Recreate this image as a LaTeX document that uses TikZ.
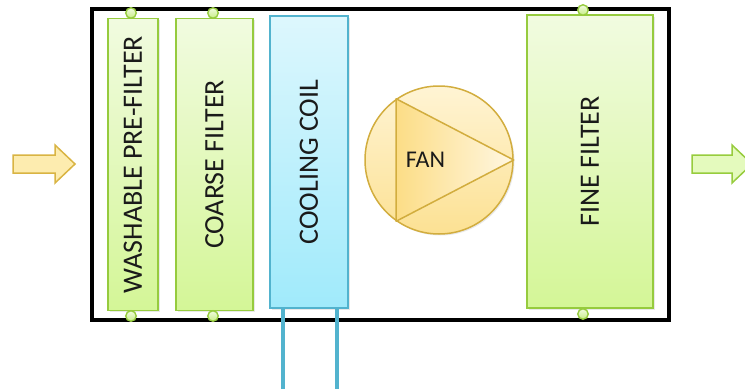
\documentclass[tikz,border=0pt]{standalone}
\usepackage{fontspec}
\setmainfont{Carlito}
\usetikzlibrary{shadows}

\definecolor{filterline}{HTML}{96CB3E}
\definecolor{filtertop}{HTML}{F1FBE0}
\definecolor{filterbot}{HTML}{D4F697}
\definecolor{coilline}{HTML}{52B3CE}
\definecolor{coiltop}{HTML}{DDF7FD}
\definecolor{coilbot}{HTML}{A0EAFB}
\definecolor{fanline}{HTML}{D2AD3E}
\definecolor{fantop}{HTML}{FFF4D4}
\definecolor{fanbot}{HTML}{FCE193}
\definecolor{bladeleft}{HTML}{FCDD86}
\definecolor{bladeright}{HTML}{FFF7E2}
\definecolor{inarrowfill}{HTML}{FDECAF}
\definecolor{inarrowline}{HTML}{D9B443}
\definecolor{outarrowfill}{HTML}{E4FABD}
\definecolor{outarrowline}{HTML}{97CC3D}
\definecolor{labeltext}{HTML}{1A1A1A}

\tikzset{
  softshadow/.style={drop shadow={shadow xshift=1.5pt, shadow yshift=-1.5pt, opacity=0.18}},
  filterbox/.style={draw=filterline, line width=1.5pt, top color=filtertop, bottom color=filterbot,
    softshadow, inner sep=0pt, text=labeltext, font=\fontsize{28}{30}\selectfont},
  coilbox/.style={draw=coilline, line width=1.5pt, top color=coiltop, bottom color=coilbot,
    softshadow, inner sep=0pt, text=labeltext, font=\fontsize{28}{30}\selectfont},
  pin/.style={circle, draw=filterline, line width=1.4pt, inner sep=0pt, minimum size=10.5pt,
    top color=filtertop, bottom color=filterbot!80!filterline},
  pipe/.style={draw=coilline, line width=4pt},
  unitframe/.style={draw=black, line width=4pt, inner sep=0pt},
}

\begin{document}
\begin{tikzpicture}[x=1pt, y=-1pt]
\useasboundingbox (0,0) rectangle (745,389);

% cabinet outline
\node[unitframe, minimum width=577pt, minimum height=311.5pt] (unit) at (380.5,164.25) {};

% inlet and outlet arrows
\filldraw[fill=inarrowfill, draw=inarrowline, line width=1.5pt, line join=miter]
  (13,155) -- (55,155) -- (55,145) -- (75,164) -- (55,183) -- (55,173) -- (13,173) -- cycle;
\filldraw[fill=outarrowfill, draw=outarrowline, line width=1.5pt, line join=miter]
  (692,155) -- (732,155) -- (732,145) -- (752,164) -- (732,183) -- (732,173) -- (692,173) -- cycle;

% pipes of the cooling coil
\coordinate (pipeA) at (283,389);
\coordinate (pipeB) at (337,389);

% filter stages
\node[filterbox, minimum width=50pt, minimum height=292pt] (wash) at (133,164.5)
  {\rotatebox{90}{WASHABLE PRE-FILTER}};
\node[filterbox, minimum width=77pt, minimum height=292pt] (coarse) at (214.5,164.5)
  {\rotatebox{90}{COARSE FILTER}};
\node[coilbox, minimum width=78pt, minimum height=292pt] (coil) at (309,162)
  {\rotatebox{90}{COOLING COIL}};
\node[filterbox, minimum width=126pt, minimum height=293pt] (fine) at (590,161.5)
  {\rotatebox{90}{FINE FILTER}};

\draw[pipe] (coil.south -| pipeA) -- (pipeA);
\draw[pipe] (coil.south -| pipeB) -- (pipeB);

% mounting pins
\node[pin] (washtop) at (131,13) {};
\node[pin] (washbot) at (131,316) {};
\node[pin] (coarsetop) at (213,13) {};
\node[pin] (coarsebot) at (213,316) {};
\node[pin] (finetop) at (583,10) {};
\node[pin] (finebot) at (583,314) {};

% fan
\node[circle, draw=fanline, line width=1.5pt, top color=fantop, bottom color=fanbot,
  minimum size=148pt, inner sep=0pt, softshadow] (fan) at (439,160) {};
\filldraw[draw=fanline, line width=1.5pt, left color=bladeleft, right color=bladeright, line join=round]
  (fan.125) -- (fan.0) -- (fan.235) -- cycle;
\node[text=labeltext, font=\fontsize{24}{26}\selectfont] (fanlabel) at (425.5,160) {FAN};
\end{tikzpicture}
\end{document}
